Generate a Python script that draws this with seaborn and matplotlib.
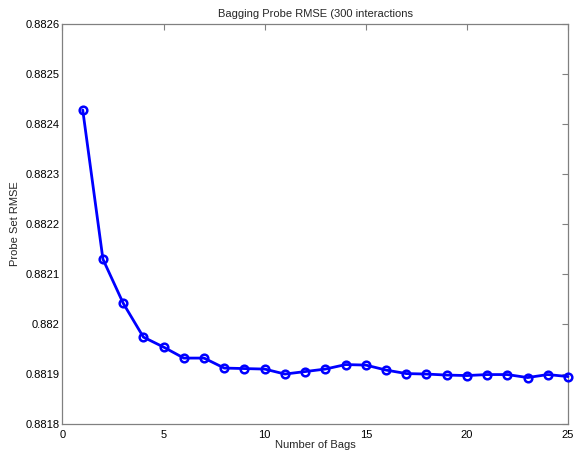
import matplotlib
matplotlib.use("Agg")
import matplotlib.pyplot as plt
import seaborn as sns
import pandas as pd

bags = list(range(1, 26))
rmse = [0.882428, 0.882129, 0.882041, 0.881973, 0.881953, 0.881931, 0.881931,
        0.881911, 0.881910, 0.881909, 0.881899, 0.881904, 0.881909, 0.881918,
        0.881917, 0.881907, 0.881900, 0.881899, 0.881897, 0.881896, 0.881898,
        0.881898, 0.881892, 0.881898, 0.881894]
xticks = [0, 5, 10, 15, 20, 25]
yticks = [0.8818, 0.8819, 0.882, 0.8821, 0.8822, 0.8823, 0.8824, 0.8825, 0.8826]
ytick_labels = ["0.8818", "0.8819", "0.882", "0.8821", "0.8822", "0.8823", "0.8824", "0.8825", "0.8826"]

df = pd.DataFrame({"bags": bags, "rmse": rmse})

sns.set_style("white")
plt.rcParams["font.family"] = ["Liberation Sans", "DejaVu Sans"]

fig = plt.figure(figsize=(5.74, 4.54), dpi=100)
ax = fig.add_axes([62.5/574, 30.5/454, 505.5/574, 399.5/454])

sns.lineplot(data=df, x="bags", y="rmse", ax=ax, color="#0000ff", linewidth=2,
             marker="o", markersize=5.5, markerfacecolor="none",
             markeredgecolor="#0000ff", markeredgewidth=1.8, clip_on=False,
             zorder=5)

ax.set_xlim(0, 25)
ax.set_ylim(0.8818, 0.8826)
ax.set_xticks(xticks)
ax.set_xticklabels([str(t) for t in xticks])
ax.set_yticks(yticks)
ax.set_yticklabels(ytick_labels)
ax.tick_params(direction="in", length=4, width=0.8, color="#808080",
               labelsize=8, top=True, right=True, labelcolor="black")
ax.tick_params(axis="y", pad=2)
ax.tick_params(axis="x", pad=5)
for s in ax.spines.values():
    s.set_color("#808080")
    s.set_linewidth(0.9)
ax.set_xlabel("Number of Bags", fontsize=8, labelpad=0)
ax.set_ylabel("Probe Set RMSE", fontsize=8, labelpad=4)
ax.set_title("Bagging Probe RMSE (300 interactions", fontsize=8, pad=5)

fig.savefig("out.png", dpi=100)
